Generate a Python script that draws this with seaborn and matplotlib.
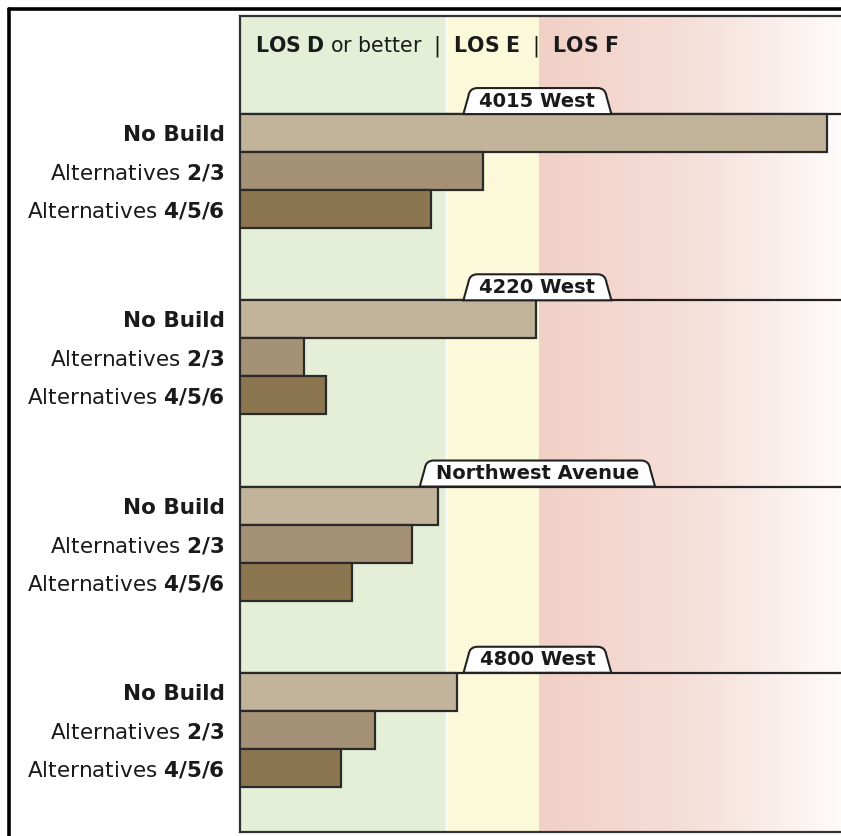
import numpy as np
import pandas as pd
import matplotlib
matplotlib.use('Agg')
import matplotlib.pyplot as plt
import seaborn as sns
from matplotlib.path import Path
from matplotlib.patches import PathPatch
from matplotlib.lines import Line2D
from matplotlib.colors import LinearSegmentedColormap

# intersection delay (sec/vehicle)
intersections = ['4015 West', '4220 West', 'Northwest Avenue', '4800 West']
alternatives = ['No Build', 'Alternatives 2/3', 'Alternatives 4/5/6']
tick_labels = ['No Build', r'Alternatives $\mathbf{2/3}$', r'Alternatives $\mathbf{4/5/6}$']
no_build = [157, 79, 53, 58]
alt_23 = [65, 17, 46, 36]
alt_456 = [51, 23, 30, 27]
los_edges = [55, 80]  # LOS D/E and E/F limits

bar_colors = {'No Build': '#C2B49A', 'Alternatives 2/3': '#A59175', 'Alternatives 4/5/6': '#8C7650'}

sns.set_style('white')
plt.rcParams['font.family'] = ['DejaVu Sans']
plt.rcParams['mathtext.fontset'] = 'custom'
plt.rcParams['mathtext.rm'] = 'DejaVu Sans'
plt.rcParams['mathtext.bf'] = 'DejaVu Sans:bold'

# layout of the rows (in bar heights)
first_top = 2.58
group_step = 4.9
y_bottom = 21.47
x_max = 166

rows = []
for g, name in enumerate(intersections):
    vals = [no_build[g], alt_23[g], alt_456[g]]
    for j, alt in enumerate(alternatives):
        rows.append({'intersection': name, 'alt': alt, 'delay': vals[j],
                     'pos': first_top + g * group_step + j + 0.5})
df = pd.DataFrame(rows)

fig = plt.figure(figsize=(8.41, 8.36), dpi=100)
ax = fig.add_axes([240 / 841, 4 / 836, 621 / 841, 816 / 836])

# LOS zones
ax.axvspan(0, los_edges[0], color='#E5EFD8', zorder=0, lw=0)
ax.axvspan(los_edges[0], los_edges[1], color='#FBF9DA', zorder=0, lw=0)
ax.axvline(los_edges[0], color='white', lw=1, zorder=0.5)
red_cmap = LinearSegmentedColormap.from_list('fade', ['#F1D0C6', '#F6E0DA', '#FFFFFF'])
grad = np.linspace(0, 1, 256).reshape(1, -1)
ax.imshow(grad, cmap=red_cmap, aspect='auto', extent=[los_edges[1], x_max, y_bottom, 0], zorder=0)

sns.barplot(data=df, x='delay', y='pos', hue='alt', orient='h', native_scale=True,
            dodge=False, width=1, palette=bar_colors, saturation=1, edgecolor='#2a2a2a',
            linewidth=1.6, legend=False, ax=ax, zorder=3)

ax.set_xlim(0, x_max)
ax.set_ylim(y_bottom, 0)

for g in range(len(intersections)):
    ax.axhline(first_top + g * group_step, color='#222222', lw=1.6, zorder=2)

ax.set_yticks(df['pos'])
ax.set_yticklabels(tick_labels * len(intersections), fontsize=15.5, color='#1a1a1a')
for lab in ax.get_yticklabels():
    if lab.get_text() == 'No Build':
        lab.set_fontweight('bold')
ax.tick_params(axis='y', length=0, pad=11)
ax.set_xticks([])
ax.set_xlabel('')
ax.set_ylabel('')

for side in ['left', 'top', 'bottom']:
    ax.spines[side].set_color('#333333')
    ax.spines[side].set_linewidth(1.6)
ax.spines['right'].set_visible(False)

# LOS header
ax.text(4.0, 0.79, r'$\mathbf{LOS\ D}$ or better  |  $\mathbf{LOS\ E}$  |  $\mathbf{LOS\ F}$',
        fontsize=14.8, va='center', ha='left', color='#1a1a1a', zorder=5)

# intersection tabs
tab_texts = []
for g, name in enumerate(intersections):
    base = first_top + g * group_step
    t = ax.text(los_edges[1] - 0.5, base - 0.34, name, fontsize=14, fontweight='bold',
                ha='center', va='center', color='#1a1a1a', zorder=6)
    tab_texts.append((t, base))

fig.canvas.draw()
renderer = fig.canvas.get_renderer()
px_x = ax.transData.transform((1, 0))[0] - ax.transData.transform((0, 0))[0]
px_y = abs(ax.transData.transform((0, 1))[1] - ax.transData.transform((0, 0))[1])
for t, base in tab_texts:
    bb = t.get_window_extent(renderer).transformed(ax.transData.inverted())
    xl = bb.x0 - 16 / px_x
    xr = bb.x1 + 16 / px_x
    top = base - 26 / px_y
    s = 5 / px_x
    rx = 9 / px_x
    ry = 8 / px_y
    verts = [(xl, base), (xl + s, top + ry), (xl + s + 1 / px_x, top), (xl + s + rx, top),
             (xr - s - rx, top), (xr - s - 1 / px_x, top), (xr - s, top + ry), (xr, base),
             (xl, base)]
    codes = [Path.MOVETO, Path.LINETO, Path.CURVE3, Path.CURVE3,
             Path.LINETO, Path.CURVE3, Path.CURVE3, Path.LINETO, Path.CLOSEPOLY]
    ax.add_patch(PathPatch(Path(verts, codes), facecolor='white', edgecolor='#222222',
                           lw=1.5, zorder=5))

# outer frame (top and left edge)
fig.add_artist(Line2D([9 / 841, 9 / 841], [0, 1 - 8.5 / 836], transform=fig.transFigure,
                      color='black', lw=2.6))
fig.add_artist(Line2D([9 / 841, 1], [1 - 8.5 / 836, 1 - 8.5 / 836], transform=fig.transFigure,
                      color='black', lw=2.6))

fig.savefig('out.png', dpi=100)
